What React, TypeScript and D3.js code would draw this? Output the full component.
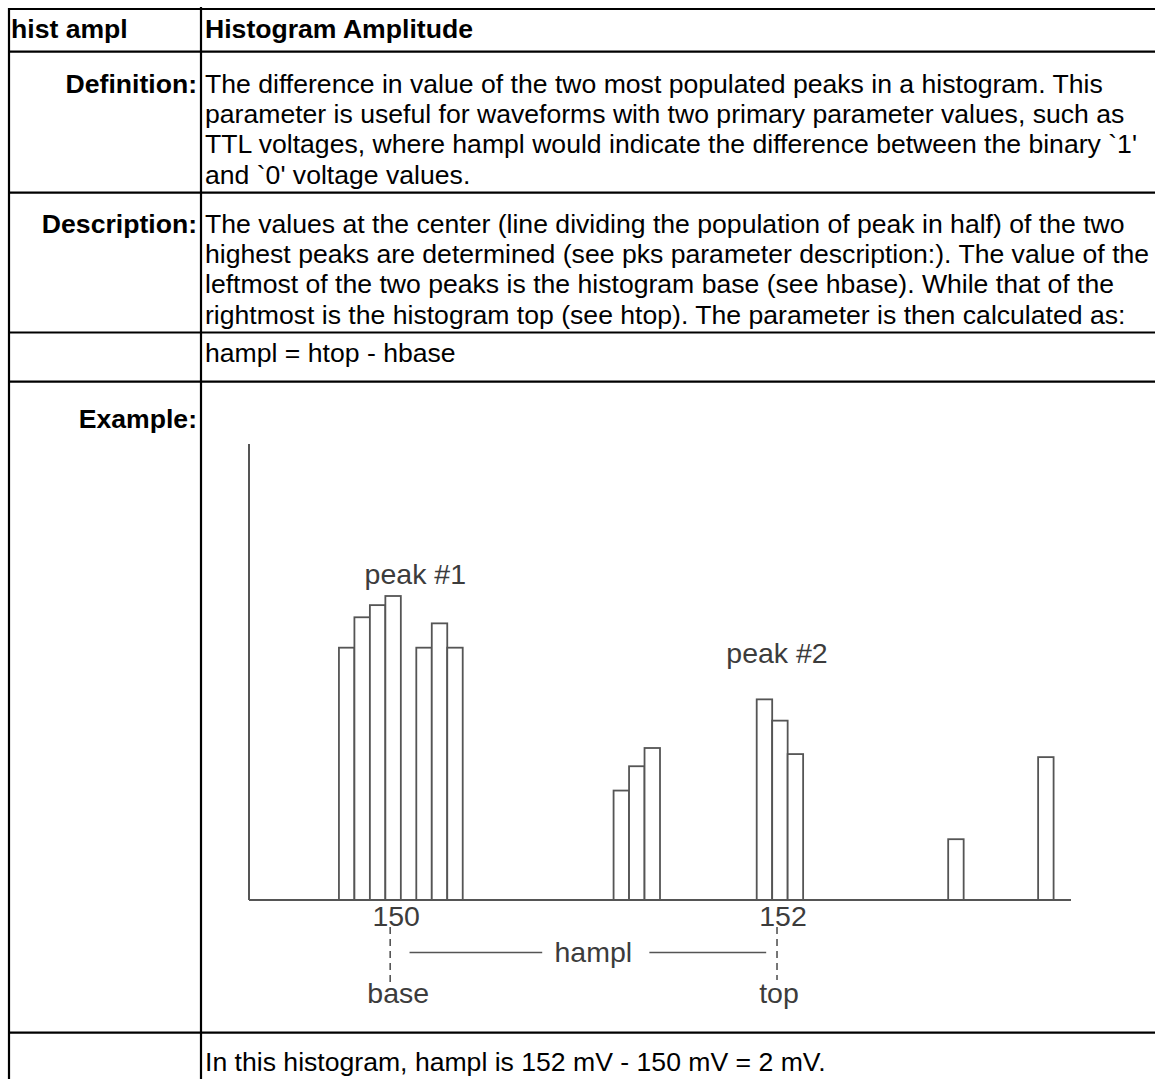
import React from 'react';
import * as d3 from 'd3';

// histogram bins (left edge, mV) and their populations
const binWidth = 0.08;
const binStarts = [
  149.735, 149.815, 149.895, 149.975, 150.135, 150.215, 150.295,
  151.155, 151.235, 151.315,
  151.895, 151.975, 152.055,
  152.885, 153.35,
];
const counts = [83, 93, 97, 100, 83, 91, 83, 36, 44, 50, 66, 59, 48, 20, 47];

const tickValues = [150, 152];
const tickNames = ['base', 'top'];
const peakNames = ['peak #1', 'peak #2'];
const peakAt = [150.13, 152.0];
const peakHeight = [104, 78];

const defLines = [
  'The difference in value of the two most populated peaks in a histogram. This',
  'parameter is useful for waveforms with two primary parameter values, such as',
  "TTL voltages, where hampl would indicate the difference between the binary `1'",
  "and `0' voltage values.",
];
const descLines = [
  'The values at the center (line dividing the population of peak in half) of the two',
  'highest peaks are determined (see pks parameter description:). The value of the',
  'leftmost of the two peaks is the histogram base (see hbase). While that of the',
  'rightmost is the histogram top (see htop). The parameter is then calculated as:',
];

const W = 1155;
const H = 1079;
const FONT = '"Liberation Sans", Arial, Helvetica, sans-serif';
const INK = '#555';

const App: React.FC = () => {
  const x = d3.scaleLinear().domain([149.27, 153.52]).range([249, 1071]);
  const y = d3.scaleLinear().domain([0, 150]).range([900, 444]);
  const y0 = y(0);

  const colX = 201;
  const rowLines = [9, 51.7, 192.7, 332.5, 381.7, 1032.7];

  const bodyText = { fontFamily: FONT, fontSize: 26.6, fill: '#000' };
  const chartText = { fontFamily: FONT, fontSize: 28.5, fill: '#3c3c3c' };

  return (
    <svg width={W} height={H} style={{ position: 'absolute', left: 0, top: 0, background: '#fff' }}>
      {/* table grid */}
      <g stroke="#000" strokeWidth={2.2}>
        {rowLines.map((ry, i) => (
          <line key={i} x1={8} x2={W} y1={ry} y2={ry} />
        ))}
        <line x1={9} x2={9} y1={8} y2={H} />
        <line x1={colX} x2={colX} y1={7} y2={H} />
      </g>

      {/* header */}
      <text x={11} y={38} {...bodyText} fontWeight="bold">hist ampl</text>
      <text x={205} y={38} {...bodyText} fontWeight="bold">Histogram Amplitude</text>

      {/* labels */}
      <g {...bodyText} fontWeight="bold" textAnchor="end">
        <text x={197} y={93}>Definition:</text>
        <text x={197} y={233}>Description:</text>
        <text x={197} y={428}>Example:</text>
      </g>

      <g {...bodyText}>
        {defLines.map((t, i) => (
          <text key={'d' + i} x={205} y={93 + i * 30.2}>{t}</text>
        ))}
        {descLines.map((t, i) => (
          <text key={'s' + i} x={205} y={233 + i * 30.2}>{t}</text>
        ))}
        <text x={205} y={362}>hampl = htop - hbase</text>
        <text x={205} y={1071}>In this histogram, hampl is 152 mV - 150 mV = 2 mV.</text>
      </g>

      {/* histogram */}
      <g fill="#fff" stroke={INK} strokeWidth={1.8}>
        {binStarts.map((b, i) => (
          <rect
            key={i}
            x={x(b)}
            y={y(counts[i])}
            width={x(b + binWidth) - x(b)}
            height={y0 - y(counts[i])}
          />
        ))}
      </g>
      <g stroke={INK} strokeWidth={2}>
        <line x1={x.range()[0]} x2={x.range()[0]} y1={y.range()[1]} y2={y0} />
        <line x1={x.range()[0]} x2={x.range()[1]} y1={y0} y2={y0} />
      </g>

      {peakNames.map((p, i) => (
        <text key={p} x={x(peakAt[i])} y={y(peakHeight[i])} textAnchor="middle" {...chartText}>{p}</text>
      ))}

      {tickValues.map((v, i) => (
        <g key={v}>
          <text x={x(v) + 6} y={y0 + 26} textAnchor="middle" {...chartText}>{v}</text>
          <line x1={x(v)} x2={x(v)} y1={y0 + 27} y2={y0 + (i === 0 ? 87 : 80)} stroke={INK} strokeWidth={1.6} strokeDasharray="7,5" />
          <text x={x(v) + (i === 0 ? 8 : 2)} y={y0 + 103} textAnchor="middle" {...chartText}>{tickNames[i]}</text>
        </g>
      ))}

      {/* hampl span */}
      <g stroke={INK} strokeWidth={1.5}>
        <line x1={x(150.1)} x2={x(150.786)} y1={y0 + 52.5} y2={y0 + 52.5} />
        <line x1={x(151.34)} x2={x(151.944)} y1={y0 + 52.5} y2={y0 + 52.5} />
      </g>
      <text x={x(151.05)} y={y0 + 62} textAnchor="middle" {...chartText}>hampl</text>
    </svg>
  );
};

export default App;
